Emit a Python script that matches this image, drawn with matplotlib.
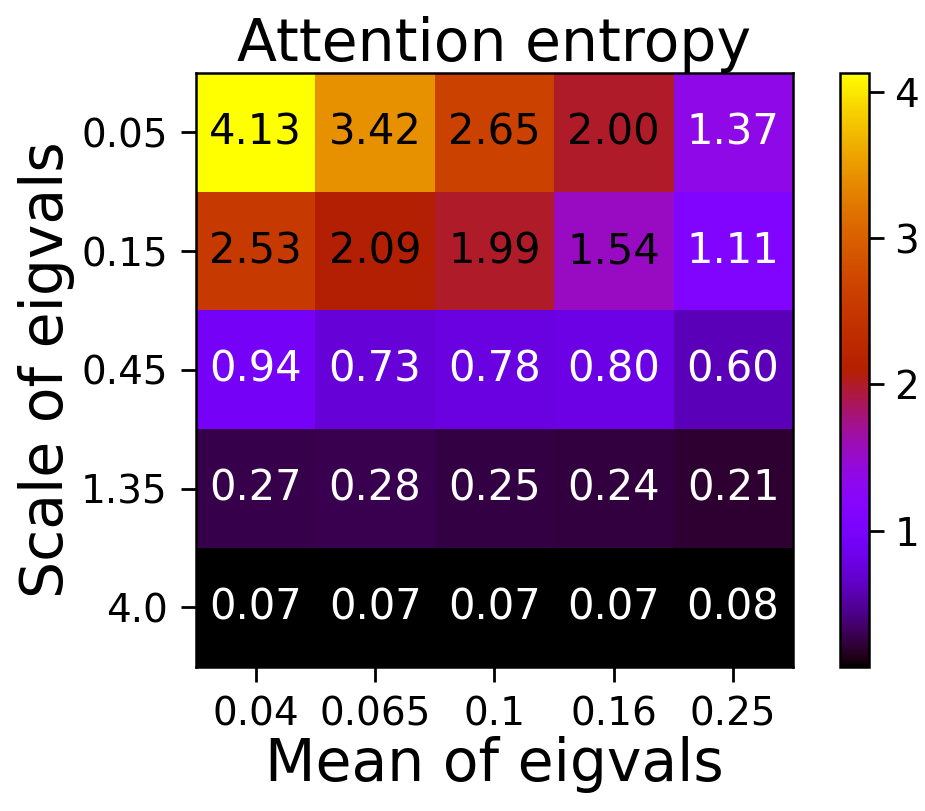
import numpy as np
import matplotlib
matplotlib.use("Agg")
import matplotlib.pyplot as plt

# axis categories
mean_labels = ["0.04", "0.065", "0.1", "0.16", "0.25"]
scale_labels = ["0.05", "0.15", "0.45", "1.35", "4.0"]

# attention entropy, rows = scale, cols = mean
row_005 = [4.13, 3.42, 2.65, 2.00, 1.37]
row_015 = [2.53, 2.09, 1.99, 1.54, 1.11]
row_045 = [0.94, 0.73, 0.78, 0.80, 0.60]
row_135 = [0.27, 0.28, 0.25, 0.24, 0.21]
row_400 = [0.07, 0.07, 0.07, 0.07, 0.08]

entropy = np.array([row_005, row_015, row_045, row_135, row_400])

fig = plt.figure(figsize=(9.25, 8.11), dpi=100)
ax = fig.add_axes([0.212, 0.178, 0.645, 0.732])
cax = fig.add_axes([0.908, 0.178, 0.031, 0.732])

im = ax.imshow(entropy, cmap="gnuplot", aspect="auto")

for i in range(entropy.shape[0]):
    for j in range(entropy.shape[1]):
        v = entropy[i, j]
        ax.text(j, i, f"{v:.2f}", ha="center", va="center",
                fontsize=30, color="black" if v > 1.45 else "white")

ax.set_xticks(range(len(mean_labels)))
ax.set_xticklabels(mean_labels, fontsize=28)
ax.set_yticks(range(len(scale_labels)))
ax.set_yticklabels(scale_labels, fontsize=28)
ax.tick_params(length=10.5, width=2, pad=10)
for s in ax.spines.values():
    s.set_linewidth(1.8)

ax.set_xlabel("Mean of eigvals", fontsize=42, labelpad=2)
ax.set_ylabel("Scale of eigvals", fontsize=42, labelpad=4)
ax.set_title("Attention entropy", fontsize=42, pad=8)

cb = fig.colorbar(im, cax=cax, ticks=[1, 2, 3, 4])
cb.ax.tick_params(labelsize=28, length=10.5, width=2, pad=8)
cb.outline.set_linewidth(1.8)

fig.savefig("out.png", dpi=100)
